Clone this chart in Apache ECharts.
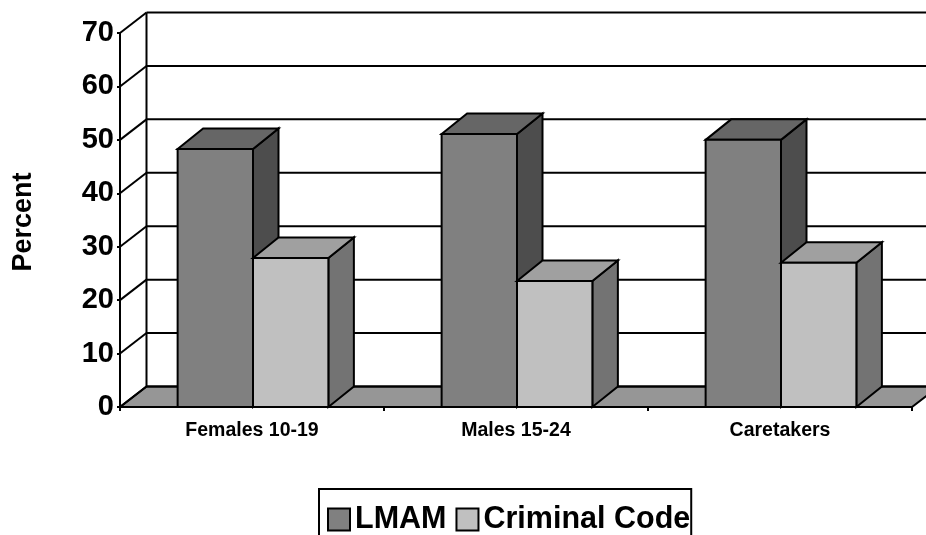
<!DOCTYPE html>
<html>
<head>
<meta charset="utf-8">
<script src="https://cdn.jsdelivr.net/npm/echarts@6/dist/echarts.min.js"></script>
<style>
html, body { margin: 0; padding: 0; background: #fff; overflow: hidden; }
#chart { width: 926px; height: 535px; }
</style>
</head>
<body>
<div id="chart"></div>
<script>
const categories = ['Females 10-19', 'Males 15-24', 'Caretakers']
const lmamValues = [48.3, 51.1, 50]
const criminalValues = [27.9, 23.6, 27]
const yTicks = [0, 10, 20, 30, 40, 50, 60, 70]

// depth of the fake 3d box, in pixels
const DX = 26.5
const DY = -20.5
const BAR_DX = 25.5
const FONT = '"Liberation Sans", Arial, sans-serif'
const LINE = { stroke: '#000', lineWidth: 2 }

function poly(points, fill) {
  return { type: 'polygon', shape: { points }, style: { fill, ...LINE } }
}

function line(x1, y1, x2, y2) {
  return { type: 'line', shape: { x1, y1, x2, y2 }, style: { ...LINE, fill: null } }
}

// back wall, side wall and floor
function renderFrame(params, api) {
  const tick = api.value(1)
  const p = api.coord([0, tick])
  const band = api.size([1, 0])[0]
  const left = p[0] - band / 2
  const right = left + band * categories.length
  const y = p[1]
  const children = []
  if (tick === 0) {
    children.push(poly([[left, y], [left + DX, y + DY], [right + DX, y + DY], [right, y]], '#969696'))
  }
  if (tick === yTicks[yTicks.length - 1]) {
    const base = api.coord([0, 0])[1]
    children.push(line(left + DX, y + DY, left + DX, base + DY))
  }
  children.push(line(left, y, left + DX, y + DY))
  children.push(line(left + DX, y + DY, right + DX, y + DY))
  return { type: 'group', children }
}

function barRenderer(offset, front, top, side) {
  return function (params, api) {
    const p = api.coord([api.value(0), api.value(1)])
    const base = api.coord([api.value(0), 0])[1]
    const w = api.size([1, 0])[0] * 0.2855
    const x1 = p[0] + offset * w + 1
    const x2 = x1 + w
    const y = p[1]
    return {
      type: 'group',
      children: [
        poly([[x2, y], [x2 + BAR_DX, y + DY], [x2 + BAR_DX, base + DY], [x2, base]], side),
        poly([[x1, y], [x1 + BAR_DX, y + DY], [x2 + BAR_DX, y + DY], [x2, y]], top),
        poly([[x1, y], [x2, y], [x2, base], [x1, base]], front)
      ]
    }
  }
}

const option = {
  animation: false,
  backgroundColor: '#fff',
  textStyle: { fontFamily: FONT },
  grid: { left: 120, top: 33, width: 792, height: 374 },
  legend: {
    left: 319,
    top: 489,
    orient: 'horizontal',
    selectedMode: false,
    data: ['LMAM', 'Criminal Code'],
    icon: 'rect',
    itemWidth: 22,
    itemHeight: 22,
    itemGap: 9,
    padding: [15, 1, 16, 8],
    borderColor: '#000',
    borderWidth: 2,
    textStyle: { color: '#000', fontFamily: FONT, fontWeight: 'bold', fontSize: 30.5 }
  },
  xAxis: {
    type: 'category',
    data: categories,
    z: 5,
    axisLine: { lineStyle: { color: '#000', width: 2 } },
    axisTick: { show: true, length: 4, lineStyle: { color: '#000', width: 2 } },
    axisLabel: { color: '#000', fontFamily: FONT, fontWeight: 'bold', fontSize: 19.5, margin: 14 }
  },
  yAxis: {
    type: 'value',
    min: 0,
    max: 70,
    interval: 10,
    z: 5,
    name: 'Percent',
    nameLocation: 'middle',
    nameGap: 83,
    nameTextStyle: { color: '#000', fontFamily: FONT, fontWeight: 'bold', fontSize: 27, padding: [0, 4, 0, 0] },
    splitLine: { show: false },
    axisLine: { show: true, lineStyle: { color: '#000', width: 2 } },
    axisTick: { show: true, length: 3, lineStyle: { color: '#000', width: 2 } },
    axisLabel: { color: '#000', fontFamily: FONT, fontWeight: 'bold', fontSize: 29, margin: 6 }
  },
  series: [
    {
      name: 'frame',
      type: 'custom',
      z: 1,
      silent: true,
      renderItem: renderFrame,
      data: yTicks.map(t => [0, t])
    },
    {
      name: 'LMAM',
      type: 'custom',
      z: 2,
      itemStyle: { color: '#808080', borderColor: '#000', borderWidth: 2 },
      renderItem: barRenderer(-1, '#808080', '#666666', '#4d4d4d'),
      data: lmamValues.map((v, i) => [i, v])
    },
    {
      name: 'Criminal Code',
      type: 'custom',
      z: 3,
      itemStyle: { color: '#c0c0c0', borderColor: '#000', borderWidth: 2 },
      renderItem: barRenderer(0, '#c0c0c0', '#a0a0a0', '#737373'),
      data: criminalValues.map((v, i) => [i, v])
    }
  ]
}

const chart = echarts.init(document.getElementById('chart'))
chart.setOption(option)
</script>
</body>
</html>
